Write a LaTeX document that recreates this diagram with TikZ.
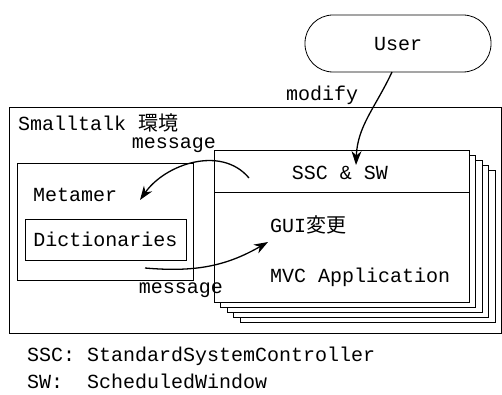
\documentclass[tikz,border=0pt]{standalone}
\usepackage{fontspec}
\setmonofont{Liberation Mono}
\newfontfamily\jpfont{Noto Sans CJK JP}
\usetikzlibrary{arrows.meta}
\tikzset{%
    box/.style={draw,line width=0.8pt,inner sep=0pt,fill=white},
    lbl/.style={inner sep=0pt,font=\ttfamily\fontsize{20}{24}\selectfont},
    msg/.style={line width=1.3pt,-{Stealth[length=14pt,width=10pt]}}
}

\begin{document}
\begin{tikzpicture}[x=1pt,y=1pt]
        \useasboundingbox (0,0) rectangle (502,394);

        \node[box,rounded corners=28pt,minimum width=186pt,minimum height=57pt] (user) at (398,350.5){};
        \node[lbl] (usertxt) at (398,350){User};

        \node[box,minimum width=492pt,minimum height=226pt] (env) at (255,174){};
        \node[lbl,anchor=west] (envtxt) at (18,271){Smalltalk {\jpfont 環境}};

        \node[box,minimum width=176pt,minimum height=117pt] (meta) at (105,172.5){};
        \node[lbl,anchor=west] (metatxt) at (33,199){Metamer};
        \node[box,minimum width=161pt,minimum height=41pt] (dict) at (105.5,154.5){};
        \node[lbl] (dicttxt) at (105.5,154.5){Dictionaries};

        \foreach \i in {4,3,2,1,0}
            \node[box,minimum width=255pt,minimum height=152pt] (win\i) at (341.5+6.5*\i,168-5*\i){};
        \node[box,minimum width=255pt,minimum height=42pt] (ssc) at (341.5,223){};
        \node[lbl] (ssctxt) at (340,221){SSC \& SW};
        \node[lbl,anchor=west] (gui) at (270,169){GUI{\jpfont 変更}};
        \node[lbl,anchor=west] (mvc) at (270,117){MVC Application};

        \coordinate (modstart) at (392,322);
        \coordinate (modtip) at (356,229);
        \coordinate (topstart) at (249,216);
        \coordinate (toptip) at (140,194);
        \coordinate (botstart) at (145,126);
        \coordinate (bottip) at (268,152);

        \draw[msg] (modstart) to[out=245,in=88] (modtip);
        \draw[msg] (topstart) to[out=130,in=55] (toptip);
        \draw[msg] (botstart) to[out=-5,in=210] (bottip);

        \node[lbl] (modify) at (322,299){modify};
        \node[lbl] (msgtop) at (174,249){message};
        \node[lbl] (msgbot) at (181,104){message};

        \node[lbl,anchor=west] (note1) at (27,38){SSC:\ StandardSystemController};
        \node[lbl,anchor=west] (note2) at (27,13){SW:\ \ ScheduledWindow};
    \end{tikzpicture}
\end{document}
